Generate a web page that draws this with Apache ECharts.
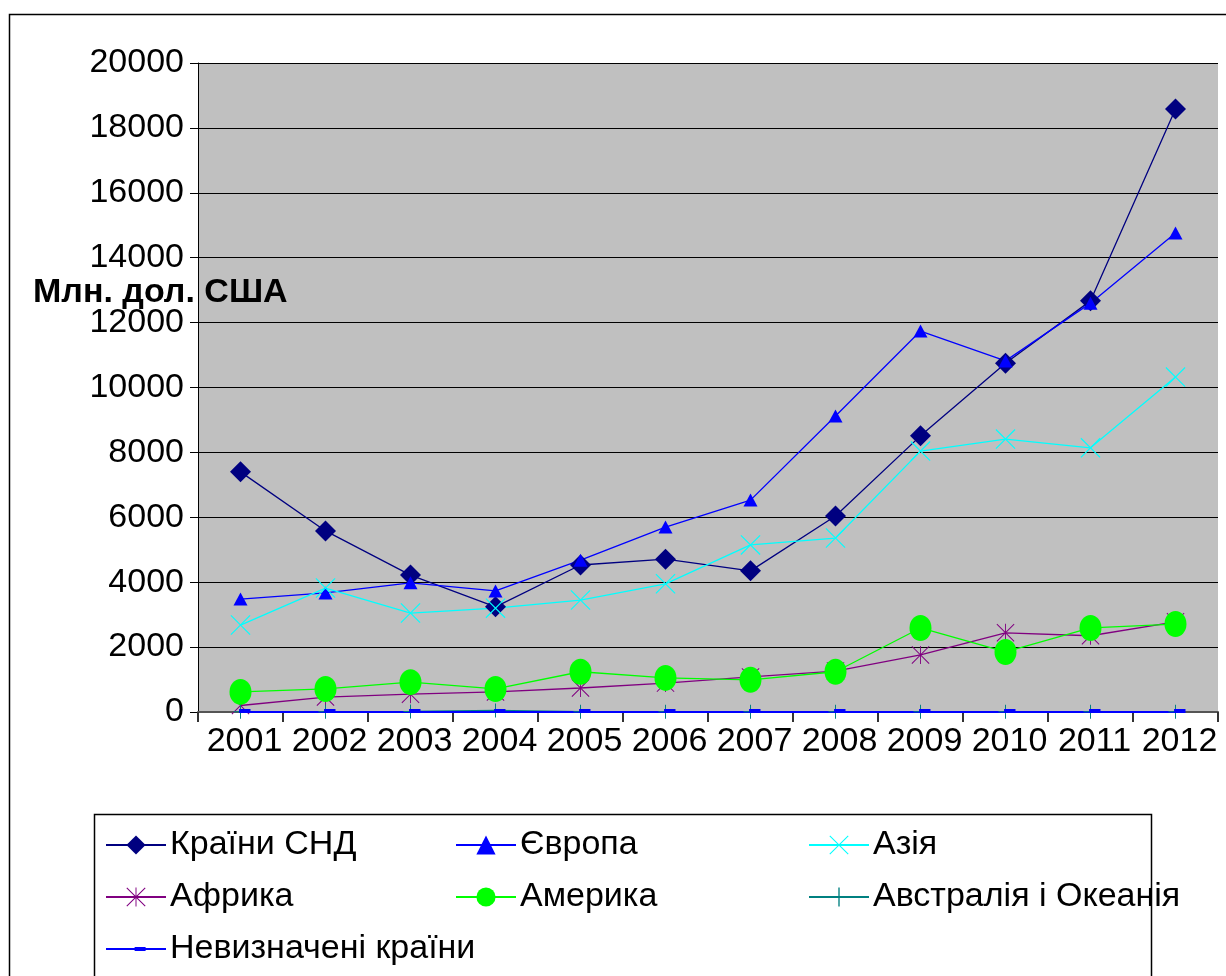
<!DOCTYPE html>
<html>
<head>
<meta charset="utf-8">
<script src="https://cdn.jsdelivr.net/npm/echarts@6/dist/echarts.min.js"></script>
<style>html,body{margin:0;padding:0;background:#fff}#c{width:1226px;height:976px}</style>
</head>
<body>
<div id="c"></div>
<script>
const years = ['2001','2002','2003','2004','2005','2006','2007','2008','2009','2010','2011','2012'];
const cis = [7400, 5580, 4220, 3240, 4530, 4710, 4350, 6040, 8510, 10750, 12670, 18580];
const europe = [3480, 3670, 3980, 3730, 4680, 5700, 6530, 9120, 11740, 10820, 12600, 14760];
const asia = [2680, 3820, 3050, 3200, 3450, 3950, 5150, 5360, 8040, 8410, 8140, 10320];
const africa = [200, 460, 550, 620, 740, 890, 1080, 1260, 1760, 2440, 2350, 2780];
const america = [620, 710, 920, 710, 1240, 1050, 990, 1240, 2590, 1850, 2590, 2710];
const australia = [10, 10, 15, 50, 10, 5, 5, 5, 5, 5, 5, 5];
const undetermined = [0, 0, 0, 0, 0, 0, 0, 0, 0, 0, 0, 0];
const yTicks = {min: 0, max: 20000, interval: 2000};
const names = ['Країни СНД', 'Європа', 'Азія', 'Африка', 'Америка', 'Австралія і Океанія', 'Невизначені країни'];
const yName = 'Млн. дол. США';

const FONT = '"Liberation Sans", Arial, sans-serif';
const FS = 34;
const xPath = 'path://M0,0.8 L0.8,0 L20,19.2 L19.2,20 Z M19.2,0 L20,0.8 L0.8,20 L0,19.2 Z';
const starPath = 'path://M0,0.8 L0.8,0 L20,19.2 L19.2,20 Z M19.2,0 L20,0.8 L0.8,20 L0,19.2 Z M9.5,0 L10.5,0 L10.5,20 L9.5,20 Z';
const plusPath = 'path://M9.3,0 L10.7,0 L10.7,20 L9.3,20 Z M0,9.3 L20,9.3 L20,10.7 L0,10.7 Z';
const dashPath = 'path://M0,0 L0.01,0 L0,0.01 Z M20,20 L19.99,20 L20,19.99 Z M9,8 L21,8 L21,12 L9,12 Z';

function ser(name, data, color, symbol, size, extra) {
  return Object.assign({
    name, type: 'line', data,
    symbol, symbolSize: size,
    showAllSymbol: true,
    lineStyle: {color, width: 1.3},
    itemStyle: {color},
    emphasis: {disabled: true},
    animation: false
  }, extra || {});
}

const chart = echarts.init(document.getElementById('c'), null, {renderer: 'canvas'});
const legendCommon = {
  orient: 'vertical', itemWidth: 60, itemHeight: 24, itemGap: 18,
  textStyle: {fontFamily: FONT, fontSize: FS, color: '#000', padding: [0,0,0,-1]},
  selectedMode: false, padding: 0
};
chart.setOption({
  backgroundColor: '#fff',
  animation: false,
  grid: {left: 198, top: 63, width: 1020, height: 649, show: true, backgroundColor: '#C0C0C0', borderWidth: 0},
  xAxis: {
    type: 'category', data: years, boundaryGap: true,
    axisLine: {show: true, lineStyle: {color: '#555', width: 2}},
    axisTick: {show: true, length: 10, lineStyle: {color: '#333', width: 2}},
    axisLabel: {fontFamily: FONT, fontSize: FS, color: '#000', margin: 13, interval: 0, padding: [0,0,0,8]}
  },
  yAxis: {
    type: 'value', min: yTicks.min, max: yTicks.max, interval: yTicks.interval,
    axisLine: {show: true, lineStyle: {color: '#000', width: 1}},
    axisTick: {show: true, length: 8, lineStyle: {color: '#000'}},
    splitLine: {show: true, lineStyle: {color: '#000', width: 1}},
    axisLabel: {fontFamily: FONT, fontSize: FS, color: '#000', margin: 14, padding: [6,0,0,0], formatter: v => String(v)}
  },
  legend: [
    Object.assign({left: 105, top: 828, data: [names[0], names[3], names[6]]}, legendCommon),
    Object.assign({left: 455, top: 828, data: [names[1], names[4]]}, legendCommon),
    Object.assign({left: 808, top: 828, data: [names[2], names[5]]}, legendCommon)
  ],
  graphic: [
    {type: 'rect', left: 7, top: 12, shape: {width: 1240, height: 990}, style: {fill: 'none', stroke: '#000', lineWidth: 1.5}, z: 100, silent: true},
    {type: 'rect', left: 92, top: 812, shape: {width: 1057, height: 170}, style: {fill: 'none', stroke: '#000', lineWidth: 1.5}, z: 100, silent: true},
    {type: 'text', left: 33, top: 276, style: {text: yName, fontFamily: FONT, fontSize: FS, fontWeight: 'bold', fill: '#000'}, z: 100, silent: true}
  ],
  series: [
    ser(names[0], cis, '#000080', 'diamond', [21, 21]),
    ser(names[1], europe, '#0000FF', 'triangle', [14, 13]),
    ser(names[2], asia, '#00FFFF', xPath, [20, 20]),
    ser(names[3], africa, '#800080', starPath, [18, 18]),
    ser(names[4], america, '#00FF00', 'circle', [22, 26]),
    ser(names[5], australia, '#008080', plusPath, [14, 14]),
    ser(names[6], undetermined, '#0000FF', dashPath, [20, 20], {symbolOffset: [0, -1], lineStyle: {color: '#0000FF', width: 2}})
  ]
});
</script>
</body>
</html>
